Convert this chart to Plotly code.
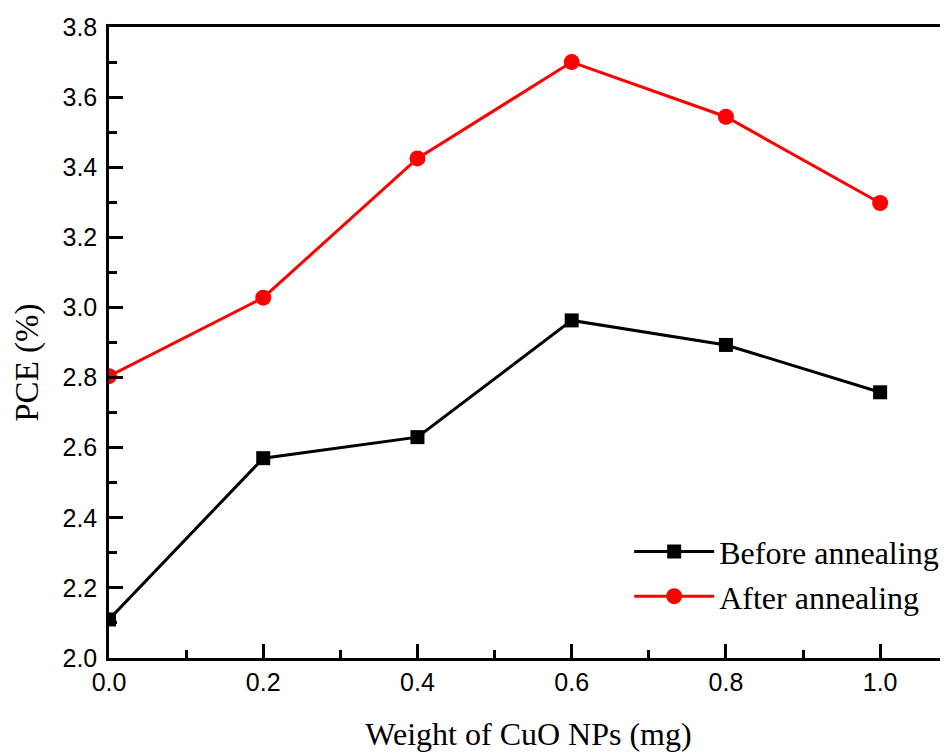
import plotly.graph_objects as go

weights = [0.0, 0.2, 0.4, 0.6, 0.8, 1.0]
before_annealing = [2.11, 2.57, 2.63, 2.963, 2.893, 2.758]
after_annealing = [2.804, 3.028, 3.425, 3.70, 3.544, 3.298]
y_ticks = [2.0, 2.2, 2.4, 2.6, 2.8, 3.0, 3.2, 3.4, 3.6, 3.8]
x_ticks = [0.0, 0.2, 0.4, 0.6, 0.8, 1.0]

fig = go.Figure()
fig.add_trace(go.Scatter(
    x=weights, y=before_annealing, name="Before annealing",
    mode="lines+markers",
    line=dict(color="black", width=3),
    marker=dict(symbol="square", size=14, color="black"),
))
fig.add_trace(go.Scatter(
    x=weights, y=after_annealing, name="After annealing",
    mode="lines+markers",
    line=dict(color="#ff0000", width=3),
    marker=dict(symbol="circle", size=16, color="#ff0000"),
))

axis_common = dict(
    showline=True, linecolor="black", linewidth=2.5,
    ticks="inside", ticklen=14, tickwidth=2.5, tickcolor="black",
    showgrid=False, zeroline=False,
    tickfont=dict(family="Liberation Sans, Arial", size=25, color="black"),
    minor=dict(ticks="inside", ticklen=8, tickwidth=2.5, tickcolor="black", dtick=0.1, showgrid=False),
)

serif = "Liberation Serif, Times New Roman"

fig.update_layout(
    width=940, height=745,
    margin=dict(l=101, r=0, t=19, b=95),
    paper_bgcolor="white", plot_bgcolor="white",
    xaxis=dict(
        range=[0, 1.088], tickvals=x_ticks, ticktext=[f"{v:.1f}" for v in x_ticks],
        mirror=True,
        title=dict(text="Weight of CuO NPs (mg)", standoff=28,
                   font=dict(family=serif, size=32, color="black")),
        **axis_common,
    ),
    yaxis=dict(
        range=[2.0, 3.8], tickvals=y_ticks, ticktext=[f"{v:.1f}" for v in y_ticks],
        ticklabelstandoff=4,
        **axis_common,
    ),
    annotations=[dict(
        text="PCE (%)", textangle=-90, showarrow=False,
        xref="paper", yref="paper", x=-0.0965, y=0.468,
        xanchor="center", yanchor="middle",
        font=dict(family=serif, size=33, color="black"),
    )],
    legend=dict(
        x=0.62, y=0.212, xanchor="left", yanchor="top",
        font=dict(family=serif, size=32, color="black"),
        bgcolor="rgba(0,0,0,0)", itemwidth=80, tracegroupgap=0,
    ),
    showlegend=True,
)

fig.write_html("out.html")
